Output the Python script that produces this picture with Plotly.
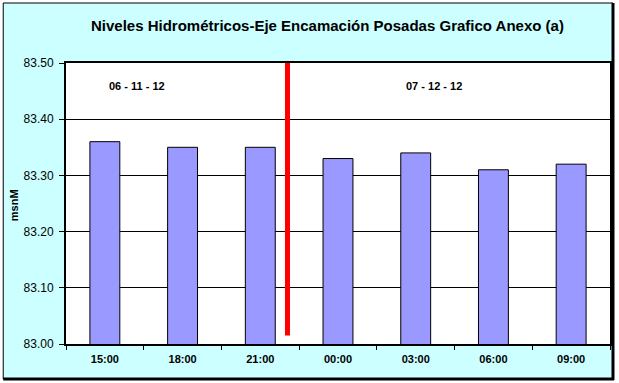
import plotly.graph_objects as go

categories = ["15:00", "18:00", "21:00", "00:00", "03:00", "06:00", "09:00"]
levels = [83.36, 83.35, 83.35, 83.33, 83.34, 83.31, 83.32]
y_ticks = [83.00, 83.10, 83.20, 83.30, 83.40, 83.50]
y_tick_labels = ["83.00", "83.10", "83.20", "83.30", "83.40", "83.50"]
date_labels = ["06 - 11 - 12", "07 - 12 - 12"]
date_label_x = [0.41, 4.24]
divider_x = 2.35
divider_y = [83.015, 83.5]

W, H = 619, 383
L, R, T, B = 66, 612, 63, 344

def px(x):
    return (x - L) / (R - L)

def py(y):
    return (B - y) / (B - T)

font = "Liberation Sans, Arial, sans-serif"

fig = go.Figure()
fig.add_trace(go.Bar(
    x=categories, y=levels,
    marker=dict(color="#9999FF", line=dict(color="#000000", width=1)),
    base=0,
))

shapes = [
    dict(type="rect", xref="paper", yref="paper", layer="below",
         x0=px(3), x1=px(615), y0=py(379), y1=py(3),
         fillcolor="#CCFFFF", line=dict(color="black", width=1)),
    dict(type="rect", xref="paper", yref="paper", layer="below",
         x0=0, x1=1, y0=0, y1=1, fillcolor="white", line=dict(width=0)),
    dict(type="line", xref="paper", yref="paper", x0=px(615), x1=px(615),
         y0=py(380), y1=py(3), line=dict(color="black", width=3)),
    dict(type="line", xref="paper", yref="paper", x0=px(3), x1=px(616),
         y0=py(379), y1=py(379), line=dict(color="black", width=3)),
    dict(type="line", xref="x", yref="y", x0=divider_x, x1=divider_x,
         y0=divider_y[0], y1=divider_y[1], line=dict(color="#FF0000", width=5)),
]

annotations = [
    dict(text="<b>Niveles Hidrométricos-Eje Encamación Posadas Grafico Anexo (a)</b>",
         xref="paper", yref="paper", x=px(328), y=py(25), xanchor="center", yanchor="middle",
         showarrow=False, font=dict(family=font, size=15, color="black")),
    dict(text="<b>msnM</b>", xref="paper", yref="paper", x=px(14), y=py(205),
         xanchor="center", yanchor="middle",
         textangle=-90, showarrow=False, font=dict(family=font, size=11, color="black")),
]
for t, xv in zip(date_labels, date_label_x):
    annotations.append(dict(text="<b>" + t + "</b>", xref="x", yref="y", x=xv, y=83.459,
                            xanchor="center", yanchor="middle",
                            showarrow=False, font=dict(family=font, size=11, color="black")))

fig.update_layout(
    width=W, height=H,
    margin=dict(l=L, r=W - R, t=T, b=H - B, pad=0),
    paper_bgcolor="white", plot_bgcolor="white",
    bargap=0.615, showlegend=False,
    shapes=shapes, annotations=annotations,
    font=dict(family=font, size=11, color="black"),
)
fig.update_xaxes(
    type="category", showline=True, linecolor="black", linewidth=2, mirror=True,
    ticks="outside", ticklen=4, tickcolor="black", tickson="boundaries",
    showgrid=False, tickfont=dict(family=font, size=11, color="black"),
    tickvals=categories, ticktext=["<b>" + c + "</b>" for c in categories],
    range=[-0.5, 6.5], ticklabelstandoff=4,
)
fig.update_yaxes(
    range=[83.0, 83.5], tickvals=y_ticks, ticktext=y_tick_labels,
    showline=True, linecolor="black", linewidth=2, mirror=True,
    ticks="outside", ticklen=5, tickcolor="black",
    showgrid=True, gridcolor="black", gridwidth=1, zeroline=False,
    tickfont=dict(family=font, size=12, color="black"), ticklabelstandoff=3,
)

fig.write_html("out.html", config={"displayModeBar": False},
               post_script="document.body.style.margin='0px';document.body.style.overflow='hidden';")
